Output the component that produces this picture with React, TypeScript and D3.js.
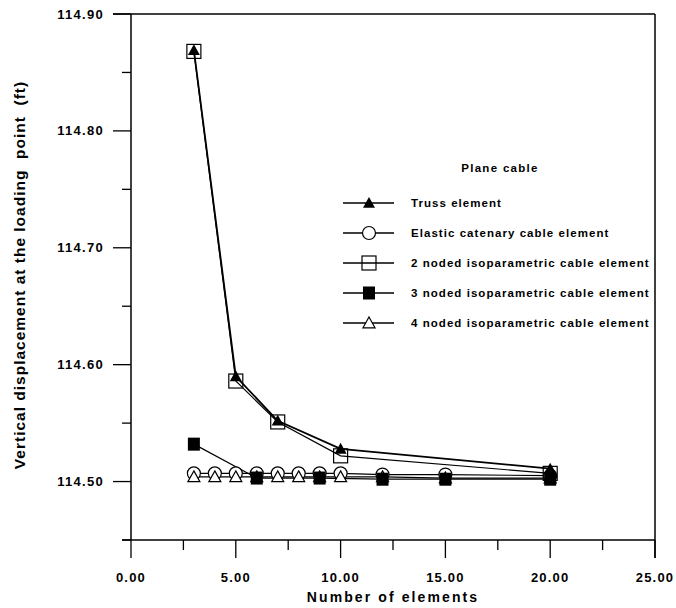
import React from "react";
import * as d3 from "d3";

const xTruss = [3, 5, 7, 10, 20];
const yTruss = [114.869, 114.59, 114.552, 114.528, 114.511];
const x2Node = [3, 5, 7, 10, 20];
const y2Node = [114.868, 114.586, 114.551, 114.522, 114.507];
const xElastic = [3, 4, 5, 6, 7, 8, 9, 10, 12, 15, 20];
const yElastic = [114.507, 114.507, 114.507, 114.507, 114.507, 114.507, 114.507, 114.507, 114.506, 114.506, 114.505];
const x3Node = [3, 6, 9, 12, 15, 20];
const y3Node = [114.532, 114.503, 114.503, 114.502, 114.502, 114.502];
const x4Node = [3, 4, 5, 6, 7, 8, 9, 10, 12, 15, 20];
const y4Node = [114.504, 114.504, 114.504, 114.504, 114.504, 114.504, 114.504, 114.504, 114.504, 114.503, 114.503];

const xMajor = [0, 5, 10, 15, 20, 25];
const xMinor = [2.5, 7.5, 12.5, 17.5, 22.5];
const yMajor = [114.5, 114.6, 114.7, 114.8, 114.9];
const yMinor = [114.45, 114.55, 114.65, 114.75, 114.85];

const legendLabels = [
  "Truss element",
  "Elastic catenary cable element",
  "2 noded isoparametric cable element",
  "3 noded isoparametric cable element",
  "4 noded isoparametric cable element",
];

const FONT = "Liberation Sans, Arial, sans-serif";

type Kind = "truss" | "circle" | "square" | "fsquare" | "otri";

function Marker({ kind, x, y }: { kind: Kind; x: number; y: number }) {
  if (kind === "truss") {
    const s = 6;
    return <path d={`M${x},${y - s}L${x + s},${y + s * 0.8}L${x - s},${y + s * 0.8}Z`} fill="#000" />;
  }
  if (kind === "otri") {
    const s = 6;
    return <path d={`M${x},${y - s}L${x + s},${y + s * 0.8}L${x - s},${y + s * 0.8}Z`} fill="#fff" stroke="#000" strokeWidth={1.2} />;
  }
  if (kind === "circle") return <circle cx={x} cy={y} r={6.5} fill="#fff" stroke="#000" strokeWidth={1.2} />;
  if (kind === "square") return <rect x={x - 7} y={y - 7} width={14} height={14} fill="none" stroke="#000" strokeWidth={1.2} />;
  return <rect x={x - 6} y={y - 6.5} width={12} height={13} fill="#000" />;
}

export default function App() {
  const xs = d3.scaleLinear().domain([0, 25]).range([131, 655]);
  const ys = d3.scaleLinear().domain([114.45, 114.9]).range([540, 14]);
  const line = d3.line<[number, number]>().x((d) => xs(d[0])).y((d) => ys(d[1]));
  const pts = (xv: number[], yv: number[]) => xv.map((v, i) => [v, yv[i]] as [number, number]);

  const series: { kind: Kind; x: number[]; y: number[]; w: number }[] = [
    { kind: "circle", x: xElastic, y: yElastic, w: 1.2 },
    { kind: "otri", x: x4Node, y: y4Node, w: 1.2 },
    { kind: "fsquare", x: x3Node, y: y3Node, w: 1.2 },
    { kind: "square", x: x2Node, y: y2Node, w: 1.2 },
    { kind: "truss", x: xTruss, y: yTruss, w: 1.8 },
  ];
  const legendKinds: Kind[] = ["truss", "circle", "square", "fsquare", "otri"];

  return (
    <svg width={676} height={608} style={{ position: "absolute", left: 0, top: 0, background: "#fff" }} fontFamily={FONT}>
      <rect width={676} height={608} fill="#fff" />
      {/* frame */}
      <line x1={113} x2={655} y1={14} y2={14} stroke="#000" strokeWidth={1.5} />
      <line x1={655} x2={655} y1={14} y2={558} stroke="#000" strokeWidth={1.5} />
      <line x1={131} x2={131} y1={14} y2={540} stroke="#000" strokeWidth={1.5} />
      <line x1={122} x2={655} y1={540} y2={540} stroke="#000" strokeWidth={1.5} />
      {/* y ticks */}
      {yMajor.map((v) => (
        <g key={"ym" + v}>
          <line x1={113} x2={131} y1={ys(v)} y2={ys(v)} stroke="#000" strokeWidth={1.3} />
          <text x={104} y={ys(v)} dy="0.35em" textAnchor="end" fontSize={13} fontWeight="bold" letterSpacing={1.3}>
            {v.toFixed(2)}
          </text>
        </g>
      ))}
      {yMinor.map((v) => (
        <line key={"yn" + v} x1={122} x2={131} y1={ys(v)} y2={ys(v)} stroke="#000" strokeWidth={1.3} />
      ))}
      {/* x ticks */}
      {xMajor.map((v) => (
        <g key={"xm" + v}>
          <line x1={xs(v)} x2={xs(v)} y1={540} y2={558} stroke="#000" strokeWidth={1.3} />
          <text x={xs(v)} y={577} dy="0.35em" textAnchor="middle" fontSize={13} fontWeight="bold" letterSpacing={1.2}>
            {v.toFixed(2)}
          </text>
        </g>
      ))}
      {xMinor.map((v) => (
        <line key={"xn" + v} x1={xs(v)} x2={xs(v)} y1={540} y2={550} stroke="#000" strokeWidth={1.3} />
      ))}
      {/* axis titles */}
      <text x={393} y={597} dy="0.35em" textAnchor="middle" fontSize={14} fontWeight="bold" letterSpacing={2.1}>
        Number of elements
      </text>
      <text
        transform="translate(20,275) rotate(-90)"
        textAnchor="middle"
        dy="0.35em"
        fontSize={15.5}
        fontWeight="bold"
        letterSpacing={1}
        style={{ whiteSpace: "pre" }}
      >
        {"Vertical displacement at the loading  point  (ft)"}
      </text>
      {/* series */}
      {series.map((s, i) => (
        <g key={"s" + i}>
          <path d={line(pts(s.x, s.y)) || ""} fill="none" stroke="#000" strokeWidth={s.w} />
        </g>
      ))}
      {series.map((s, i) => (
        <g key={"m" + i}>
          {s.x.map((xv, j) => (
            <Marker key={j} kind={s.kind} x={xs(xv)} y={ys(s.y[j])} />
          ))}
        </g>
      ))}
      {/* legend */}
      <text x={500} y={168} dy="0.35em" textAnchor="middle" fontSize={11.5} fontWeight="bold" letterSpacing={1.3}>
        Plane cable
      </text>
      {legendLabels.map((lab, i) => {
        const y = 203 + i * 30;
        return (
          <g key={"l" + i}>
            <line x1={343} x2={394} y1={y} y2={y} stroke="#000" strokeWidth={1.3} />
            <Marker kind={legendKinds[i]} x={369} y={y} />
            <text x={411} y={y} dy="0.35em" fontSize={11.5} fontWeight="bold" letterSpacing={1.05}>
              {lab}
            </text>
          </g>
        );
      })}
    </svg>
  );
}
